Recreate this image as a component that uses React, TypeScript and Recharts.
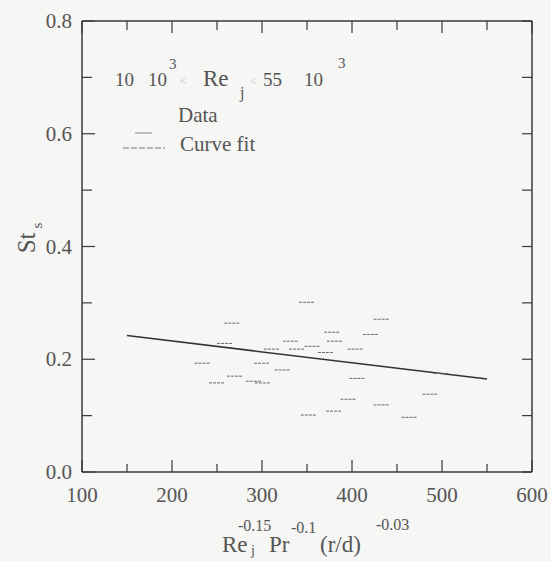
import React from 'react';
import {
  ComposedChart,
  Scatter,
  Line,
  XAxis,
  YAxis
} from 'recharts';

// measured points (x = Re_j^-0.15 Pr^-0.1 (r/d)^-0.03, y = St_s)
const dataX = [350, 267, 378, 421, 433, 332, 381, 356, 311, 339, 371, 404, 259, 234, 300, 323, 270, 291, 301, 250, 406, 499, 487, 396, 433, 380, 352, 464];
const dataY = [0.301, 0.264, 0.248, 0.244, 0.271, 0.232, 0.232, 0.223, 0.218, 0.218, 0.212, 0.218, 0.228, 0.193, 0.193, 0.181, 0.170, 0.161, 0.158, 0.158, 0.166, 0.175, 0.138, 0.129, 0.119, 0.108, 0.101, 0.097];

// curve fit end points
const fitX = [150, 550];
const fitY = [0.242, 0.165];

const xTicks = [100, 150, 200, 250, 300, 350, 400, 450, 500, 550, 600];
const yTicks = [0, 0.1, 0.2, 0.3, 0.4, 0.5, 0.6, 0.7, 0.8];

const points = dataX.map((x, i) => ({ x, y: dataY[i] }));
const fit = fitX.map((x, i) => ({ x, y: fitY[i] }));

const AXIS = '#3a3a3a';
const TEXT = '#555';
const FONT = 'Liberation Serif, Times New Roman, serif';

const BottomTick = ({ x, y, payload }: any) => {
  const major = payload.value % 100 === 0;
  return (
    <g>
      <line x1={x} x2={x} y1={y} y2={y - (major ? 12 : 8)} stroke={AXIS} strokeWidth={1.2} />
      {major && (
        <text x={x} y={y + 30} textAnchor="middle" fontSize={21} fill={TEXT} style={{ fontFamily: FONT }}>
          {payload.value}
        </text>
      )}
    </g>
  );
};

const TopTick = ({ x, y, payload }: any) => {
  const major = payload.value % 100 === 0;
  return <line x1={x} x2={x} y1={y} y2={y + (major ? 12 : 9)} stroke={AXIS} strokeWidth={1.2} />;
};

const LeftTick = ({ x, y, payload }: any) => {
  const major = Math.round(payload.value * 10) % 2 === 0;
  return (
    <g>
      <line x1={x} x2={x + (major ? 13 : 10)} y1={y} y2={y} stroke={AXIS} strokeWidth={1.2} />
      {major && (
        <text x={x - 10} y={y + 7} textAnchor="end" fontSize={21} fill={TEXT} style={{ fontFamily: FONT }}>
          {payload.value.toFixed(1)}
        </text>
      )}
    </g>
  );
};

const RightTick = ({ x, y }: any) => {
  return <line x1={x} x2={x - 10} y1={y} y2={y} stroke={AXIS} strokeWidth={1.2} />;
};

const DashMark = ({ cx, cy }: any) => (
  <line x1={cx - 8} x2={cx + 8} y1={cy} y2={cy} stroke="#6a6a6a" strokeWidth={1} strokeDasharray="3 1" />
);

const abs = (left: number, top: number, size: number, extra: React.CSSProperties = {}): React.CSSProperties => ({
  position: 'absolute',
  left,
  top: top - size * 0.6,
  fontSize: size,
  lineHeight: 1.2 + 'em',
  fontFamily: FONT,
  color: TEXT,
  whiteSpace: 'nowrap',
  ...extra
});

const LegendBox = () => (
  <>
    <span style={abs(115, 80, 19)}>10</span>
    <span style={abs(148, 80, 19)}>10</span>
    <span style={abs(169, 64, 15)}>3</span>
    <span style={abs(180, 81, 12, { color: '#bbb' })}>&lt;</span>
    <span style={abs(203, 79, 23)}>Re</span>
    <span style={abs(240, 93, 16)}>j</span>
    <span style={abs(250, 81, 12, { color: '#bbb' })}>&lt;</span>
    <span style={abs(263, 80, 19)}>55</span>
    <span style={abs(304, 80, 19)}>10</span>
    <span style={abs(338, 63, 15)}>3</span>
    <svg style={{ position: 'absolute', left: 0, top: 0 }} width={551} height={170}>
      <line x1={135} x2={152} y1={133} y2={133} stroke="#888" strokeWidth={1} />
      <line x1={123} x2={165} y1={148} y2={148} stroke="#777" strokeWidth={1} strokeDasharray="6 2" />
    </svg>
    <span style={abs(178, 116, 21)}>Data</span>
    <span style={abs(180, 145, 21)}>Curve fit</span>
  </>
);

export default function App() {
  return (
    <div style={{ position: 'absolute', left: 0, top: 0, width: 551, height: 561, background: '#f6f6f4', overflow: 'hidden' }}>
      <ComposedChart width={551} height={561} margin={{ top: 20, right: 18, left: 81, bottom: 88 }}>
        <XAxis
          xAxisId={0}
          dataKey="x"
          type="number"
          domain={[100, 600]}
          ticks={xTicks}
          interval={0}
          height={1}
          tickSize={0}
          tickMargin={0}
          tickLine={false}
          axisLine={{ stroke: AXIS, strokeWidth: 1.5 }}
          tick={<BottomTick />}
          allowDataOverflow
        />
        <XAxis
          xAxisId="top"
          orientation="top"
          dataKey="x"
          type="number"
          domain={[100, 600]}
          ticks={xTicks}
          interval={0}
          height={1}
          tickSize={0}
          tickMargin={0}
          tickLine={false}
          axisLine={{ stroke: AXIS, strokeWidth: 1.5 }}
          tick={<TopTick />}
          allowDataOverflow
        />
        <YAxis
          yAxisId={0}
          type="number"
          domain={[0, 0.8]}
          ticks={yTicks}
          interval={0}
          width={1}
          tickSize={0}
          tickMargin={0}
          tickLine={false}
          axisLine={{ stroke: AXIS, strokeWidth: 1.5 }}
          tick={<LeftTick />}
          allowDataOverflow
        />
        <YAxis
          yAxisId="right"
          orientation="right"
          type="number"
          domain={[0, 0.8]}
          ticks={yTicks}
          interval={0}
          width={1}
          tickSize={0}
          tickMargin={0}
          tickLine={false}
          axisLine={{ stroke: AXIS, strokeWidth: 1.5 }}
          tick={<RightTick />}
          allowDataOverflow
        />
        <Scatter data={points} dataKey="y" shape={<DashMark />} isAnimationActive={false} />
        <Line data={fit} dataKey="y" type="linear" stroke="#333" strokeWidth={1.5} dot={false} isAnimationActive={false} />
      </ComposedChart>

      <LegendBox />

      <div style={{ position: 'absolute', left: 27, top: 238, transform: 'translate(-50%, -50%) rotate(-90deg)', fontFamily: FONT, color: TEXT, fontSize: 25, whiteSpace: 'nowrap' }}>
        St<span style={{ fontSize: 15, position: 'relative', top: 7, marginLeft: 4 }}>s</span>
      </div>

      <span style={abs(222, 545, 23)}>Re</span>
      <span style={abs(251, 551, 14)}>j</span>
      <span style={abs(238, 526, 16)}>-0.15</span>
      <span style={abs(269, 545, 23)}>Pr</span>
      <span style={abs(291, 528, 16)}>-0.1</span>
      <span style={abs(320, 545, 23)}>(r/d)</span>
      <span style={abs(376, 525, 16)}>-0.03</span>
    </div>
  );
}
